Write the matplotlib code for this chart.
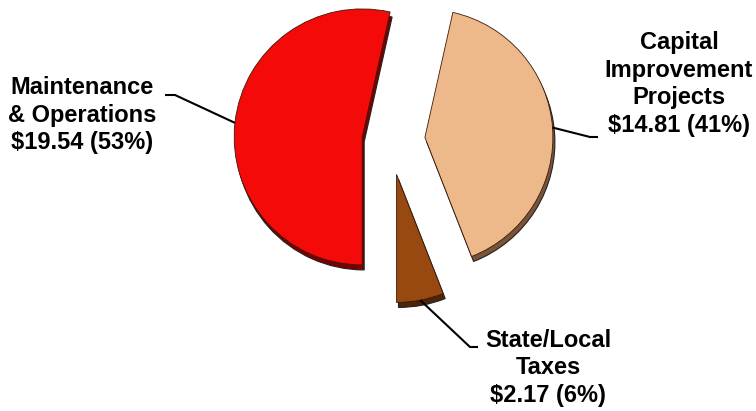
import numpy as np
import matplotlib
matplotlib.use("Agg")
import matplotlib.pyplot as plt

# data (drawn counterclockwise from straight down)
labels = ["State/Local\nTaxes", "Capital\nImprovement\nProjects", "Maintenance\n& Operations"]
values = [2.17, 14.81, 19.54]
pcts = [6, 41, 53]
colors = ["#97490F", "#EDB98B", "#F50A0A"]
sides = ["#4E2306", "#7A5438", "#7A0000"]
explode = [35, 35, 28]   # pixels

# text placement (pixels, from top-left)
text_xy = [(548, 368), (679, 84), (82, 115)]

W, H = 756, 411
fig = plt.figure(figsize=(W / 100, H / 100), dpi=100)
ax = fig.add_axes([0, 0, 1, 1])

cx, cy, R = 390, H - 140, 128

# 3d side: darker copy shifted down/right
ax.pie(values, explode=explode, colors=sides, startangle=-90, radius=R,
       center=(cx + 2, cy - 5), frame=True,
       wedgeprops=dict(edgecolor="#222222", linewidth=0.8))
wedges, _ = ax.pie(values, explode=explode, colors=colors, startangle=-90, radius=R,
                   center=(cx, cy), frame=True,
                   wedgeprops=dict(edgecolor="#3a1a0a", linewidth=0.6))
ax.set_xlim(0, W)
ax.set_ylim(0, H)
ax.set_aspect("equal")
ax.axis("off")

for i, w in enumerate(wedges):
    mid = np.deg2rad((w.theta1 + w.theta2) / 2)
    wx, wy = w.center
    px, py = wx + R * np.cos(mid), wy + R * np.sin(mid)
    tx, ty = text_xy[i]
    ty = H - ty
    txt = "%s\n$%.2f (%d%%)" % (labels[i], values[i], pcts[i])
    ax.text(tx, ty, txt, ha="center", va="center", fontsize=17, fontweight="bold",
            family="Liberation Sans", linespacing=1.25)
    if i == 0:
        ex, ey, kx = 478, H - 347, 470
    elif i == 1:
        ex, ey, kx = 598, H - 137, 590
    else:
        ex, ey, kx = 165, H - 95, 175
    ax.plot([px, kx, ex], [py, ey, ey], color="black", lw=1.5, solid_capstyle="butt")

fig.savefig("out.png", dpi=100)
